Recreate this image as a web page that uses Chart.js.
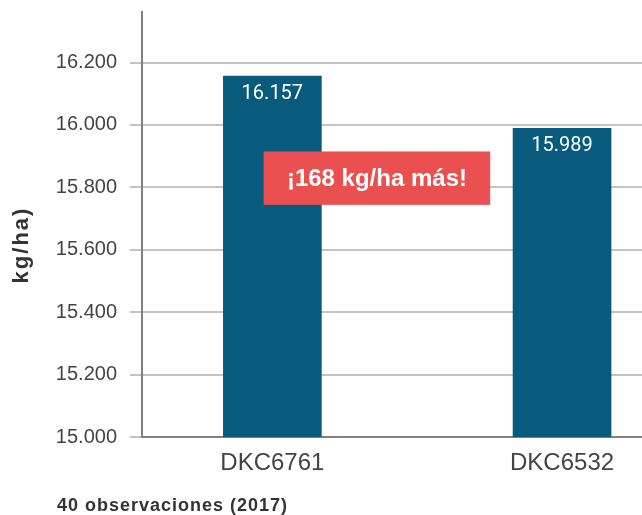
<!DOCTYPE html>
<html>
<head>
<meta charset="utf-8">
<script src="https://cdn.jsdelivr.net/npm/chart.js@4"></script>
<style>
  html, body { margin: 0; padding: 0; background: #fff; }
  #wrap { width: 642px; height: 515px; }
</style>
</head>
<body>
<div id="wrap"><canvas id="rendimientoChart"></canvas></div>
<script>
// datos del gráfico
const hibridos = ['DKC6761', 'DKC6532'];
const rendimiento = [16157, 15989];
const yTicks = [15000, 15200, 15400, 15600, 15800, 16000, 16200];
const ejeTitulo = 'kg/ha)';
const nota = '40 observaciones (2017)';
const diferencia = '¡168 kg/ha más!';

const AZUL = '#085b7c';
const ROJO = '#ea5050';

function formatoMiles(v) {
    return String(v).replace(/\B(?=(\d{3})+(?!\d))/g, '.');
}

const extras = {
    id: 'extras',
    afterDatasetsDraw(chart) {
        const ctx = chart.ctx;
        const meta = chart.getDatasetMeta(0);
        const x = chart.scales.x, y = chart.scales.y;

        ctx.save();
        // valores dentro de las barras
        ctx.fillStyle = '#ffffff';
        ctx.font = '20px Roboto';
        ctx.textAlign = 'center';
        ctx.textBaseline = 'top';
        meta.data.forEach((bar, i) => {
            ctx.fillText(formatoMiles(rendimiento[i]), bar.x, bar.y + 8);
        });

        // recuadro rojo con la diferencia
        const left = x.getPixelForValue(0.97);
        const right = x.getPixelForValue(1.752);
        const top = y.getPixelForValue(15915);
        const bottom = y.getPixelForValue(15744);
        ctx.fillStyle = ROJO;
        ctx.fillRect(left, top, right - left, bottom - top);
        ctx.fillStyle = '#ffffff';
        ctx.font = 'bold 24px "Liberation Sans"';
        ctx.textBaseline = 'middle';
        ctx.fillText(diferencia, (left + right) / 2, (top + bottom) / 2 + 1);
        ctx.restore();
    },
    afterDraw(chart) {
        const ctx = chart.ctx;
        ctx.save();
        // título del eje y
        ctx.translate(22, 245);
        ctx.rotate(-Math.PI / 2);
        ctx.fillStyle = '#333333';
        ctx.font = 'bold 22px "Liberation Sans"';
        ctx.letterSpacing = '2px';
        ctx.textAlign = 'center';
        ctx.textBaseline = 'middle';
        ctx.fillText(ejeTitulo, 0, 0);
        ctx.restore();

        // nota al pie
        ctx.save();
        ctx.fillStyle = '#333333';
        ctx.font = 'bold 18px "Liberation Sans"';
        ctx.letterSpacing = '1px';
        ctx.textAlign = 'left';
        ctx.textBaseline = 'alphabetic';
        ctx.fillText(nota, 57, 511);
        ctx.restore();
    }
};

const ctx = document.getElementById('rendimientoChart').getContext('2d');
new Chart(ctx, {
    type: 'bar',
    data: {
        datasets: [{
            data: rendimiento.map((v, i) => ({ x: i + 1, y: v })),
            backgroundColor: AZUL,
            barThickness: 98
        }]
    },
    options: {
        responsive: true,
        maintainAspectRatio: false,
        animation: false,
        layout: { padding: { top: 12, right: 0, bottom: 38, left: 0 } },
        plugins: {
            legend: { display: false },
            tooltip: { enabled: false }
        },
        scales: {
            x: {
                type: 'linear',
                offset: false,
                min: 0.55,
                max: 2.276,
                afterBuildTicks: (scale) => { scale.ticks = hibridos.map((h, i) => ({ value: i + 1 })); },
                afterFit: (scale) => { scale.height = 40; },
                grid: { display: false, drawTicks: false },
                border: { display: true, color: '#808080', width: 2 },
                ticks: {
                    padding: 12,
                    color: '#444444',
                    font: { family: '"Liberation Sans"', size: 24 },
                    callback: (v) => hibridos[v - 1]
                }
            },
            y: {
                min: 15000,
                max: 16362,
                afterBuildTicks: (scale) => { scale.ticks = yTicks.map(v => ({ value: v })); },
                afterFit: (scale) => {
                    scale.width = 142;
                    scale.paddingTop = 0;
                    scale.paddingBottom = 0;
                },
                grid: { color: '#c4c4c4', lineWidth: 2, tickLength: 12 },
                border: { display: true, color: '#808080', width: 2 },
                ticks: {
                    padding: 13,
                    color: '#444444',
                    font: { family: '"Liberation Sans"', size: 20 },
                    callback: (v) => formatoMiles(v)
                }
            }
        }
    },
    plugins: [extras]
});
</script>
</body>
</html>
